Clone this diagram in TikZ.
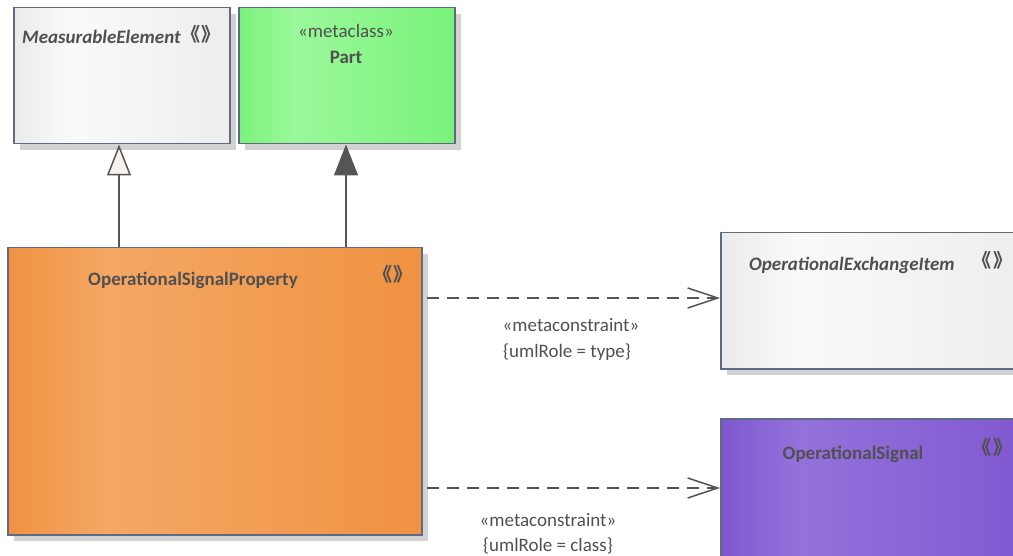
\documentclass[tikz,border=0pt]{standalone}
\usepackage{fontspec}
\setmainfont{Carlito}
\newfontfamily\cjk{Noto Sans CJK SC}
\usetikzlibrary{arrows.meta,shadows}
\definecolor{bordc}{HTML}{5E6A86}
\definecolor{txtc}{HTML}{505050}
\definecolor{linec}{HTML}{555555}
\definecolor{shadc}{HTML}{D2D2D2}
\definecolor{hollowc}{HTML}{F8F1EE}
\pgfdeclarehorizontalshading{greyshade}{100bp}{color(0bp)=(white!92!black); color(25bp)=(white!92!black); color(38bp)=(white!98!black); color(75bp)=(white!93!black); color(100bp)=(white!93!black)}
\pgfdeclarehorizontalshading{greenshade}{100bp}{color(0bp)=(rgb,255:red,124;green,242;blue,124); color(25bp)=(rgb,255:red,124;green,242;blue,124); color(38bp)=(rgb,255:red,154;green,248;blue,154); color(75bp)=(rgb,255:red,122;green,243;blue,122); color(100bp)=(rgb,255:red,122;green,243;blue,122)}
\pgfdeclarehorizontalshading{orangeshade}{100bp}{color(0bp)=(rgb,255:red,240;green,146;blue,66); color(25bp)=(rgb,255:red,240;green,146;blue,66); color(37bp)=(rgb,255:red,244;green,168;blue,100); color(75bp)=(rgb,255:red,240;green,146;blue,66); color(100bp)=(rgb,255:red,240;green,146;blue,66)}
\pgfdeclarehorizontalshading{purpleshade}{100bp}{color(0bp)=(rgb,255:red,127;green,87;blue,208); color(25bp)=(rgb,255:red,127;green,87;blue,208); color(38bp)=(rgb,255:red,148;green,114;blue,219); color(75bp)=(rgb,255:red,128;green,88;blue,209); color(100bp)=(rgb,255:red,128;green,88;blue,209)}
\newcommand{\stereomark}{《\kern1.5pt》}
\begin{document}
\begin{tikzpicture}[x=1pt,y=-1pt,
  box/.style={draw=bordc, line width=1.5pt, rectangle, anchor=north west, inner sep=0pt,
    drop shadow={shadow xshift=6pt, shadow yshift=-6pt, fill=shadc, opacity=1, draw=none}},
  nametxt/.style={text=txtc, font=\fontsize{19}{21}\selectfont\bfseries, inner sep=0pt, anchor=base},
  itname/.style={nametxt, font=\fontsize{19}{21}\selectfont\bfseries\itshape, anchor=base west},
  lbltxt/.style={text=txtc, font=\fontsize{19}{21}\selectfont, inner sep=0pt, anchor=base},
  stereo/.style={text=txtc, font=\cjk\fontsize{19}{21}\selectfont\bfseries, inner sep=0pt, anchor=center},
  conn/.style={draw=linec, line width=1.5pt},
  dep/.style={conn, dash pattern=on 12pt off 8pt, -{Straight Barb[length=30pt,width=20pt,line width=1.5pt]}}
]
\useasboundingbox (0,0) rectangle (1013,556);
% boxes
\node[box, shading=greyshade, minimum width=216pt, minimum height=136pt] (me) at (13,7) {};
\node[box, shading=greenshade, minimum width=216pt, minimum height=136pt] (part) at (238,7) {};
\node[box, shading=orangeshade, minimum width=414pt, minimum height=287pt] (osp) at (7,247) {};
\node[box, shading=greyshade, minimum width=305pt, minimum height=136pt] (oei) at (720,232) {};
\node[box, shading=purpleshade, minimum width=305pt, minimum height=145pt] (os) at (720,418) {};
% texts
\node[itname] (meT) at (22,44) {MeasurableElement};
\node[stereo] (meS) at (201,34) {\stereomark};
\node[lbltxt] (partS) at (346,38) {«metaclass»};
\node[nametxt] (partT) at (346,64) {Part};
\node[nametxt] (ospT) at (193,286) {OperationalSignalProperty};
\node[stereo] (ospS) at (393,274) {\stereomark};
\node[itname] (oeiT) at (749,271) {OperationalExchangeItem};
\node[stereo] (oeiS) at (992.5,260) {\stereomark};
\node[nametxt] (osT) at (853,459) {OperationalSignal};
\node[stereo] (osS) at (992.5,447) {\stereomark};
% connectors
\coordinate (g1) at (119,247);
\coordinate (g2) at (346,247);
\draw[conn, -{Triangle[open, length=31pt, width=24pt, line width=1.5pt, fill=hollowc]}] (g1) -- (g1 |- me.south);
\draw[conn, -{Triangle[length=31pt, width=24pt, fill=linec]}] (g2) -- (g2 |- part.south);
\coordinate (d1) at (427,298);
\coordinate (d2) at (427,488);
\draw[dep] (d1) -- (d1 -| oei.west);
\draw[dep] (d2) -- (d2 -| os.west);
% labels
\node[lbltxt] (l1a) at (571,332) {«metaconstraint»};
\node[lbltxt] (l1b) at (567,357) {\{umlRole = type\}};
\node[lbltxt] (l2a) at (548,526) {«metaconstraint»};
\node[lbltxt] (l2b) at (548,551) {\{umlRole = class\}};
\end{tikzpicture}
\end{document}
